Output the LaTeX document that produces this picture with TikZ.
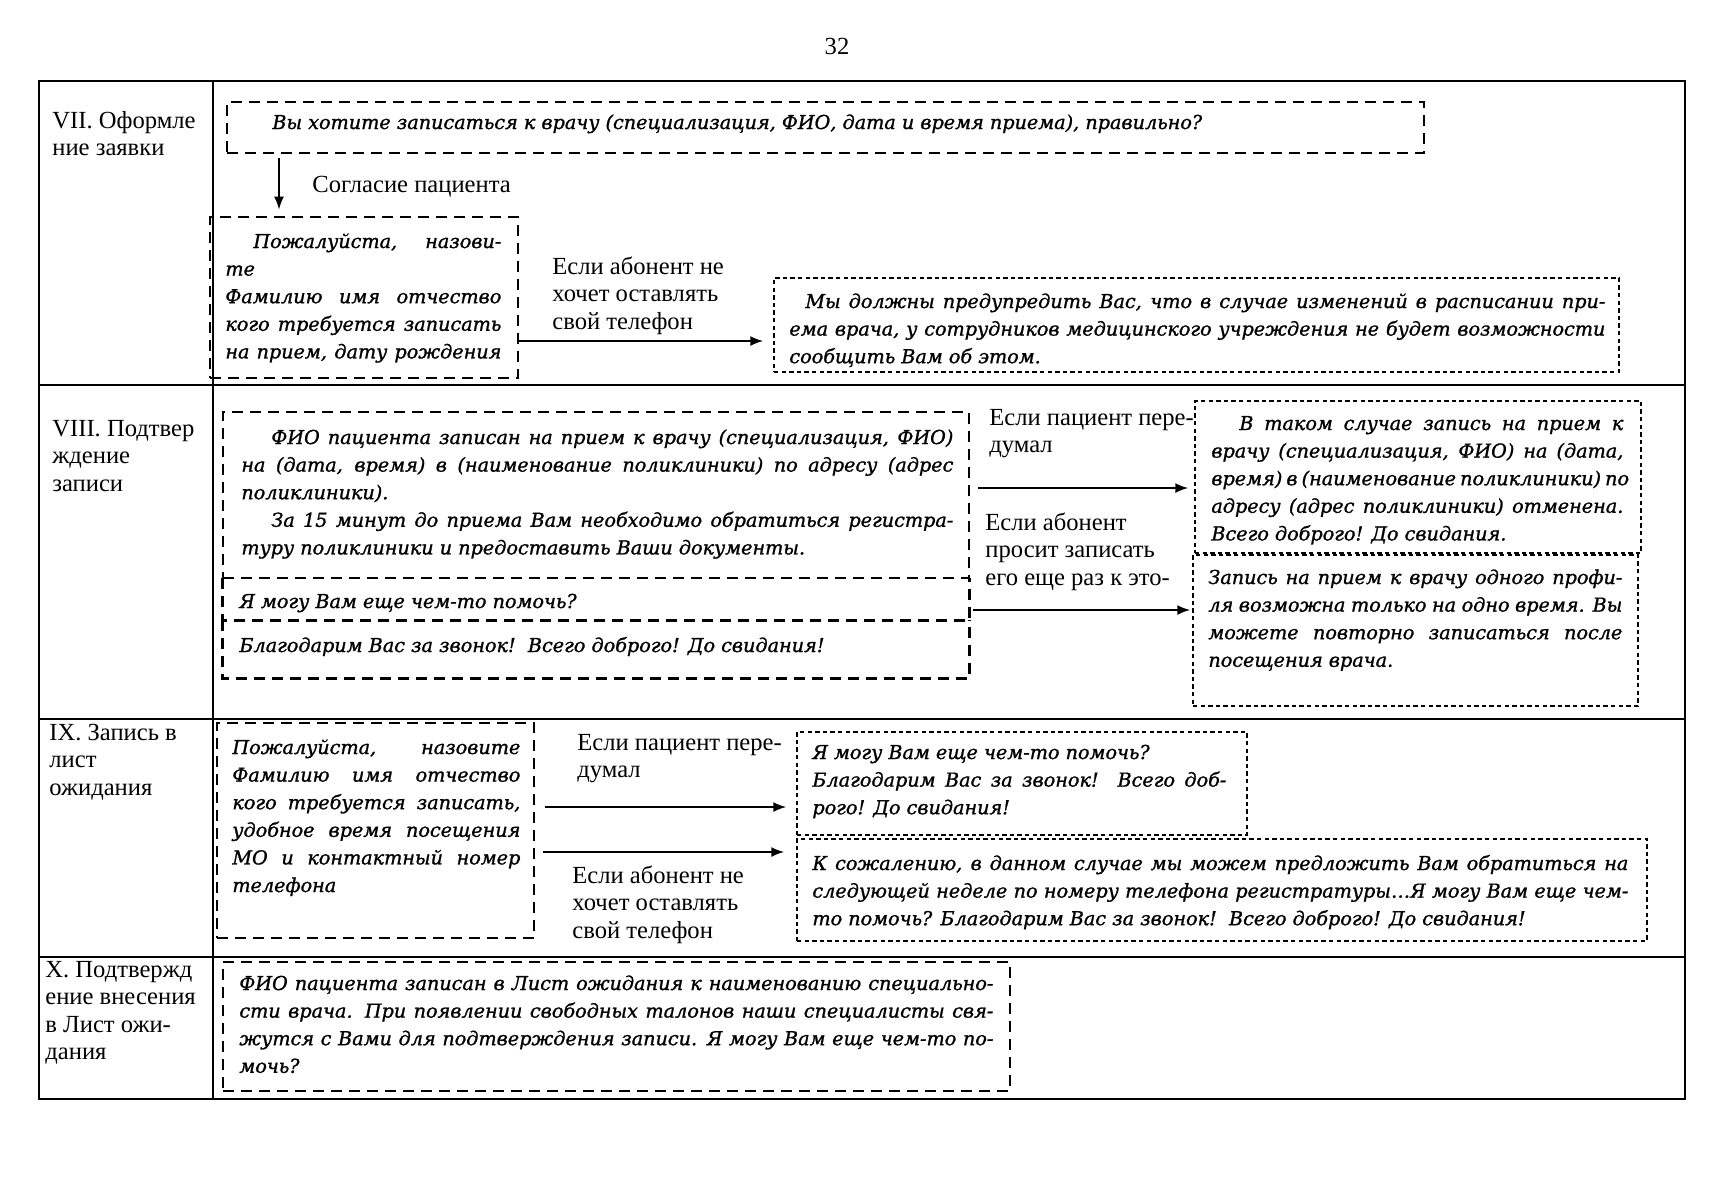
\documentclass[tikz,border=0pt]{standalone}
\usepackage{fontspec}
\setmainfont{Liberation Serif}
\newfontface\boxfont{DejaVu Serif Italic}[FakeBold=1.2]
\usetikzlibrary{arrows.meta,fit}
\newcommand\jline[1]{\makebox[\linewidth][s]{#1}}
\newcommand\jind[2]{\hspace*{#1}\makebox[\dimexpr\linewidth-#1\relax][s]{#2}}
\tikzset{
  tbl/.style={line width=1pt},
  thickdash/.style={line width=1.4pt, dash pattern=on 5.5pt off 3.5pt},
  thickbox/.style={draw, thickdash, inner sep=0pt},
  openbox/.style={inner sep=0pt},
  thinbox/.style={draw, line width=0.75pt, dash pattern=on 2.2pt off 1.6pt, inner sep=0pt},
  txt/.style={inner sep=0pt, anchor=base west, font=\boxfont\fontsize{9.6}{13.8}\selectfont},
  lbl/.style={inner sep=0pt, anchor=base west, font=\fontsize{12.3}{13.8}\selectfont},
  arr/.style={line width=0.9pt, -{Latex[length=6.5pt,width=5pt]}},
}
\begin{document}
\begin{tikzpicture}[x=0.5pt,y=-0.5pt]
\useasboundingbox[fill=white] (0,0) rectangle (1709,1200);

% page number
\node[lbl, anchor=base] (pnum) at (837,54) {32};

% table grid
\draw[tbl] (39,81) rectangle (1685,1099);
\draw[tbl] (213,81) -- (213,1099);
\draw[tbl] (39,385) -- (1685,385);
\draw[tbl] (39,719) -- (1685,719);
\draw[tbl] (39,957) -- (1685,957);

% row labels
\node[lbl] (r7) at (52,128) {\parbox[t]{150pt}{VII. Оформле\\ние заявки}};
\node[lbl] (r8) at (52,436) {\parbox[t]{150pt}{VIII. Подтвер\\ждение\\записи}};
\node[lbl] (r9) at (49,740) {\parbox[t]{150pt}{IX. Запись в\\лист\\ожидания}};
\node[lbl] (r10) at (45,977) {\parbox[t]{150pt}{X. Подтвержд\\ение внесения\\в Лист ожи-\\дания}};

% boxes
\node[thickbox, fit={(227,102) (1424,153)}] (boxA) {};
\node[thickbox, fit={(210,217) (518,378)}] (boxB) {};
\node[thinbox, fit={(774,278) (1619,372)}] (boxC) {};
\node[thickbox, fit={(223,412) (969,578)}] (boxD) {};
\node[openbox, fit={(223,578) (969,620)}] (boxE) {};
\node[openbox, fit={(223,620) (969,678)}] (boxF) {};
\draw[thickdash] (boxE.north west) -- (boxE.south west) -- (boxE.south east) -- (boxE.north east);
\draw[thickdash] (boxF.north west) -- (boxF.south west) -- (boxF.south east) -- (boxF.north east);
\node[thinbox, fit={(1195,401) (1641,553)}] (boxG) {};
\node[thinbox, fit={(1193,555) (1638,706)}] (boxH) {};
\node[thickbox, fit={(217,723) (534,938)}] (boxI) {};
\node[thinbox, fit={(797,732) (1247,835)}] (boxJ) {};
\node[thinbox, fit={(797,839) (1647,941)}] (boxK) {};
\node[thickbox, fit={(223,962) (1010,1091)}] (boxL) {};

% box texts
\node[txt] (tA) at (272,129) {Вы хотите записаться к врачу (специализация, ФИО, дата и время приема), правильно?};
\node[txt] (tB) at (225,248) {\parbox[t]{138pt}{\jind{14pt}{Пожалуйста, назови-}\\те\\\jline{Фамилию имя отчество}\\\jline{кого требуется записать}\\\jline{на прием, дату рождения}}};
\node[txt] (tC) at (789,308) {\parbox[t]{408pt}{\jind{8pt}{Мы должны предупредить Вас, что в случае изменений в расписании при-}\\\jline{ема врача, у сотрудников медицинского учреждения не будет возможности}\\сообщить Вам об этом.}};
\node[txt] (tD) at (241,444) {\parbox[t]{356pt}{\jind{15pt}{ФИО пациента записан на прием к врачу (специализация, ФИО)}\\\jline{на (дата, время) в (наименование поликлиники) по адресу (адрес}\\поликлиники).\\\jind{15pt}{За 15 минут до приема Вам необходимо обратиться регистра-}\\туру поликлиники и предоставить Ваши документы.}};
\node[txt] (tE) at (239,608) {Я могу Вам еще чем-то помочь?};
\node[txt] (tF) at (239,652) {Благодарим Вас за звонок!\ \ Всего доброго! До свидания!};
\node[txt] (tG) at (1211,430) {\parbox[t]{206pt}{\jind{14pt}{В таком случае запись на прием к}\\\jline{врачу (специализация, ФИО) на (дата,}\\\jline{время) в (наименование поликлиники) по}\\\jline{адресу (адрес поликлиники) отменена.}\\Всего доброго! До свидания.}};
\node[txt] (tH) at (1208,584) {\parbox[t]{207pt}{\jline{Запись на прием к врачу одного профи-}\\\jline{ля возможна только на одно время. Вы}\\\jline{можете повторно записаться после}\\посещения врача.}};
\node[txt] (tI) at (232,754) {\parbox[t]{144pt}{\jline{Пожалуйста, назовите}\\\jline{Фамилию имя отчество}\\\jline{кого требуется записать,}\\\jline{удобное время посещения}\\\jline{МО и контактный номер}\\телефона}};
\node[txt] (tJ) at (812,759) {\parbox[t]{207pt}{Я могу Вам еще чем-то помочь?\\\jline{Благодарим Вас за звонок!\ \ Всего доб-}\\рого! До свидания!}};
\node[txt] (tK) at (812,870) {\parbox[t]{408pt}{\jline{К сожалению, в данном случае мы можем предложить Вам обратиться на}\\\jline{следующей неделе по номеру телефона регистратуры…Я могу Вам еще чем-}\\то помочь? Благодарим Вас за звонок!\ \ Всего доброго! До свидания!}};
\node[txt] (tL) at (239,990) {\parbox[t]{377pt}{\jline{ФИО пациента записан в Лист ожидания к наименованию специально-}\\\jline{сти врача. При появлении свободных талонов наши специалисты свя-}\\\jline{жутся с Вами для подтверждения записи. Я могу Вам еще чем-то по-}\\мочь?}};

% connector labels
\node[lbl] (lAgree) at (312,192) {Согласие пациента};
\node[lbl] (l1) at (552,274) {\parbox[t]{150pt}{Если абонент не\\хочет оставлять\\свой телефон}};
\node[lbl] (l2) at (989,425) {\parbox[t]{150pt}{Если пациент пере-\\думал}};
\node[lbl] (l3) at (985,530) {\parbox[t]{150pt}{Если абонент\\просит записать\\его еще раз к это-}};
\node[lbl] (l4) at (577,750) {\parbox[t]{150pt}{Если пациент пере-\\думал}};
\node[lbl] (l5) at (572,883) {\parbox[t]{150pt}{Если абонент не\\хочет оставлять\\свой телефон}};

% connector helper coordinates
\coordinate (xAgree) at (279,0);
\coordinate (yBC) at (0,341);
\coordinate (yDG) at (0,488);
\coordinate (yEH) at (0,610);
\coordinate (yIJ) at (0,807);
\coordinate (yIK) at (0,852);

% connectors
\draw[arr, shorten <=2pt, shorten >=3pt] (boxA.south -| xAgree) -- (boxB.north -| xAgree);
\draw[arr, shorten >=5pt] (boxB.east |- yBC) -- (boxC.west |- yBC);
\draw[arr, shorten <=4pt, shorten >=3pt] (boxD.east |- yDG) -- (boxG.west |- yDG);
\draw[arr, shorten <=2pt, shorten >=1pt] (boxE.east |- yEH) -- (boxH.west |- yEH);
\draw[arr, shorten <=5pt, shorten >=5pt] (boxI.east |- yIJ) -- (boxJ.west |- yIJ);
\draw[arr, shorten <=4pt, shorten >=6pt] (boxI.east |- yIK) -- (boxK.west |- yIK);
\end{tikzpicture}
\end{document}
